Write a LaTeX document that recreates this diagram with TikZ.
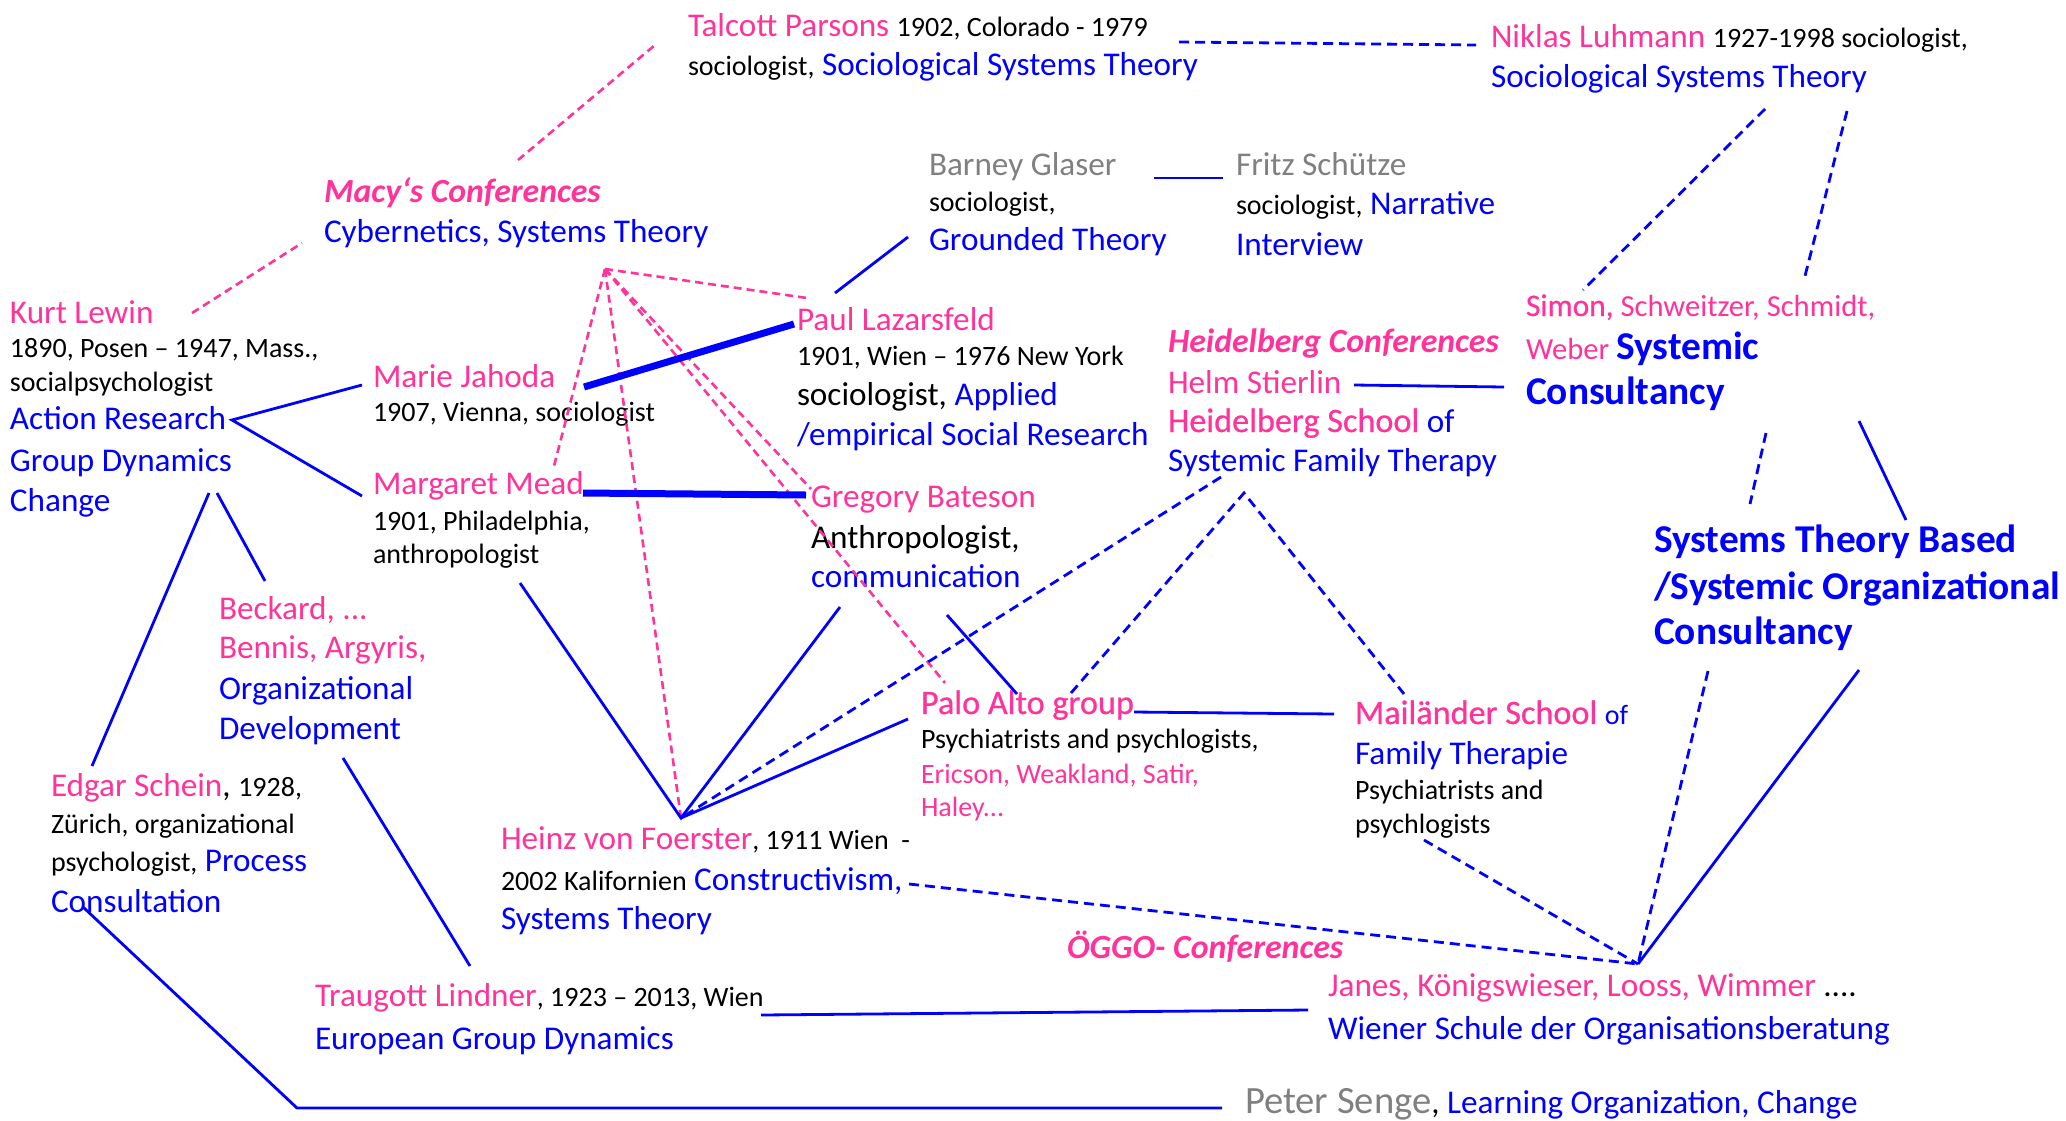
\documentclass[tikz,border=0pt]{standalone}
\usepackage{fontspec}
\setmainfont{Carlito}
\newfontfamily\semibfam[FakeBold=0.6]{Carlito}
\definecolor{pk}{RGB}{255,51,153}
\definecolor{bl}{RGB}{0,0,255}
\definecolor{gr}{RGB}{128,128,128}
% font sizes
\newcommand\fL{\fontsize{16.6}{19}\selectfont}
\newcommand\fS{\fontsize{14}{17}\selectfont}
\newcommand\fM{\fontsize{15.3}{18}\selectfont}
\newcommand\fX{\fontsize{19.7}{23}\selectfont}
\newcommand\fG{\fontsize{19.3}{23}\selectfont}
\newcommand\semib{\semibfam\fontsize{17.1}{19}\selectfont}
\newcommand\semibM{\semibfam\fontsize{15.7}{18}\selectfont}
\newcommand\bi{\bfseries\itshape\fontsize{16.9}{19}\selectfont}
\newcommand\pk[1]{{\color{pk}#1}}
\newcommand\bl[1]{{\color{bl}#1}}
\newcommand\gr[1]{{\color{gr}#1}}
\tikzset{
  txt/.style={anchor=base west, inner sep=0pt, outer sep=0pt, font=\fL},
  pinkdash/.style={draw=pk, line width=1.3pt, dash pattern=on 4pt off 2.5pt},
  bluedash/.style={draw=bl, line width=1.4pt, dash pattern=on 5pt off 3pt},
  blueline/.style={draw=bl, line width=1.4pt},
  bluethick/.style={draw=bl, line width=3.5pt},
}
\begin{document}
\begin{tikzpicture}[x=0.5pt,y=-0.5pt]
\useasboundingbox (0,0) rectangle (2066,1120);

% ---- Talcott Parsons
\node[txt] (tp1) at (688,36) {\pk{Talcott Parsons} {\fS 1902, Colorado - 1979}};
\node[txt] (tp2) at (688,75) {{\fS sociologist,} \bl{Sociological Systems Theory}};
% ---- Niklas Luhmann
\node[txt] (nl1) at (1491,47) {\pk{Niklas Luhmann} {\fS 1927-1998 sociologist,}};
\node[txt] (nl2) at (1491,87) {\bl{Sociological Systems Theory}};
% ---- Macy's Conferences
\node[txt] (mc1) at (324,202) {\pk{\bi Macy‘s Conferences}};
\node[txt] (mc2) at (324,242) {\bl{Cybernetics, Systems Theory}};
% ---- Kurt Lewin
\node[txt] (kl1) at (10,323) {\pk{Kurt Lewin}};
\node[txt] (kl2) at (10,357) {\fS 1890, Posen – 1947, Mass.,};
\node[txt] (kl3) at (10,391) {\fS socialpsychologist};
\node[txt] (kl4) at (10,429) {\bl{Action Research}};
\node[txt] (kl5) at (10,471) {\bl{Group Dynamics}};
\node[txt] (kl6) at (10,511) {\bl{Change}};
% ---- Marie Jahoda / Margaret Mead
\node[txt] (mj1) at (373,387) {\pk{Marie Jahoda}};
\node[txt] (mj2) at (373,421) {\fS 1907, Vienna, sociologist};
\node[txt] (mm1) at (373,494) {\pk{Margaret Mead}};
\node[txt] (mm2) at (373,530) {\fS 1901, Philadelphia,};
\node[txt] (mm3) at (373,563) {\fS anthropologist};
% ---- Barney Glaser / Fritz Schuetze
\node[txt] (bg1) at (929,175) {\gr{Barney Glaser}};
\node[txt] (bg2) at (929,211) {\fS sociologist,};
\node[txt] (bg3) at (929,250) {\bl{Grounded Theory}};
\node[txt] (fs1) at (1236,175) {\gr{Fritz Schütze}};
\node[txt] (fs2) at (1236,214) {{\fS sociologist,} \bl{Narrative}};
\node[txt] (fs3) at (1236,255) {\bl{Interview}};
% ---- Paul Lazarsfeld
\node[txt] (pl1) at (797,330) {\pk{Paul Lazarsfeld}};
\node[txt] (pl2) at (797,365) {\fS 1901, Wien – 1976 New York};
\node[txt] (pl3) at (797,405) {sociologist, \bl{Applied}};
\node[txt] (pl4) at (797,445) {\bl{/empirical Social Research}};
% ---- Heidelberg
\node[txt] (hd1) at (1168,352) {\pk{\bi Heidelberg Conferences}};
\node[txt] (hd2) at (1168,393) {\pk{Helm Stierlin}};
\node[txt] (hd3) at (1168,432) {\pk{\semib Heidelberg School} \bl{of}};
\node[txt] (hd4) at (1168,471) {\bl{Systemic Family Therapy}};
% ---- Gregory Bateson
\node[txt] (gb1) at (811,507) {\pk{Gregory Bateson}};
\node[txt] (gb2) at (811,548) {Anthropologist,};
\node[txt] (gb3) at (811,587) {\bl{communication}};
% ---- Simon et al.
\node[txt] (sc1) at (1526,316) {\fM\pk{{\semibM Simon,} Schweitzer, Schmidt,}};
\node[txt] (sc2) at (1526,359) {\fM\pk{Weber} \bl{\fX\bfseries Systemic}};
\node[txt] (sc3) at (1526,404) {\bl{\fX\bfseries Consultancy}};
% ---- Systems Theory Based
\node[txt] (st1) at (1654,552) {\bl{\fX\bfseries Systems Theory Based}};
\node[txt] (st2) at (1654,599) {\bl{\fX\bfseries /Systemic Organizational}};
\node[txt] (st3) at (1654,644) {\bl{\fX\bfseries Consultancy}};
% ---- Beckard et al.
\node[txt] (bk1) at (219,619) {\pk{Beckard, ...}};
\node[txt] (bk2) at (219,658) {\pk{Bennis, Argyris,}};
\node[txt] (bk3) at (219,699) {\bl{Organizational}};
\node[txt] (bk4) at (219,739) {\bl{Development}};
% ---- Edgar Schein
\node[txt] (es1) at (51,796) {\pk{Edgar Schein}, {\fS 1928,}};
\node[txt] (es2) at (51,833) {\fS Zürich, organizational};
\node[txt] (es3) at (51,871) {{\fS psychologist,} \bl{Process}};
\node[txt] (es4) at (51,912) {\bl{Consultation}};
% ---- Heinz von Foerster
\node[txt] (hf1) at (501,849) {\pk{Heinz von Foerster}{\fS , 1911 Wien\ \ -}};
\node[txt] (hf2) at (501,890) {{\fS 2002 Kalifornien} \bl{Constructivism,}};
\node[txt] (hf3) at (501,929) {\bl{Systems Theory}};
% ---- Traugott Lindner
\node[txt] (tl1) at (315,1006) {\pk{Traugott Lindner}{\fS , 1923 – 2013, Wien}};
\node[txt] (tl2) at (315,1049) {\bl{European Group Dynamics}};
% ---- Palo Alto group
\node[txt] (pa1) at (921,714) {\pk{\semib Palo Alto group}};
\node[txt] (pa2) at (921,748) {\fS Psychiatrists and psychlogists,};
\node[txt] (pa3) at (921,783) {\fS\pk{Ericson, Weakland, Satir,}};
\node[txt] (pa4) at (921,816) {\fS\pk{Haley...}};
% ---- OeGGO
\node[txt] (og) at (1067,958) {\pk{\bi ÖGGO- Conferences}};
% ---- Mailaender School
\node[txt] (ms1) at (1355,724) {\pk{\semib Mailänder School} {\fS\bl{of}}};
\node[txt] (ms2) at (1355,764) {\bl{Family Therapie}};
\node[txt] (ms3) at (1355,799) {\fS Psychiatrists and};
\node[txt] (ms4) at (1355,833) {\fS psychlogists};
% ---- Vienna school
\node[txt] (wi1) at (1328,996) {\pk{Janes, Königswieser, Looss, Wimmer} ....};
\node[txt] (wi2) at (1328,1039) {\bl{Wiener Schule der Organisationsberatung}};
% ---- Peter Senge
\node[txt] (ps) at (1245,1113) {\gr{\fG Peter Senge}, \bl{Learning Organization, Change}};

% ---- connector end points
\coordinate (A) at (605,269);   % Macy fan
\coordinate (H) at (681,818);   % Foerster fan
\coordinate (J) at (1638,964);  % Vienna fan
\coordinate (K) at (1244,493);  % Heidelberg fan
\coordinate (ar) at (232,420);
\coordinate (kurtR) at (192,313);
\coordinate (macyL) at (302,243);
\coordinate (macyT) at (518,160);
\coordinate (talB) at (655,45);
\coordinate (plTL) at (807,298);
\coordinate (mmTop) at (554,466);
\coordinate (gbL) at (811,489);
\coordinate (paTop) at (945,683);
\coordinate (mjR) at (362,385);
\coordinate (mmL) at (362,496);
\coordinate (chA) at (209,493);
\coordinate (chB) at (217,493);
\coordinate (esT) at (92,766);
\coordinate (bkT) at (265,581);
\coordinate (bkB) at (343,758);
\coordinate (tlT) at (470,966);
\coordinate (esB) at (83,907);
\coordinate (cornerSB) at (297,1108);
\coordinate (psL) at (1222,1108);
\coordinate (tlR) at (761,1015);
\coordinate (wiL) at (1308,1010);
\coordinate (mmB) at (520,583);
\coordinate (gbB) at (840,607);
\coordinate (paL) at (908,719);
\coordinate (gbB2) at (947,615);
\coordinate (paT2) at (1017,694);
\coordinate (paR) at (1134,712);
\coordinate (msL) at (1334,714);
\coordinate (plT) at (835,293);
\coordinate (bgB) at (908,237);
\coordinate (bgR) at (1154,178);
\coordinate (fsL) at (1223,178);
\coordinate (hsR) at (1354,385);
\coordinate (scL) at (1504,387);
\coordinate (scB1) at (1766,433);
\coordinate (stT1) at (1750,504);
\coordinate (scB2) at (1859,421);
\coordinate (stT2) at (1906,520);
\coordinate (stB1) at (1708,671);
\coordinate (stB2) at (1859,670);
\coordinate (mjRR) at (584,387);
\coordinate (plL) at (794,324);
\coordinate (mmR) at (583,493);
\coordinate (gbLL) at (806,495);
\coordinate (tpR) at (1179,42);
\coordinate (nlL) at (1476,45);
\coordinate (nlB1) at (1765,109);
\coordinate (scT1) at (1583,290);
\coordinate (nlB2) at (1847,111);
\coordinate (scT2) at (1805,276);
\coordinate (paTT) at (1071,693);
\coordinate (msT) at (1404,694);
\coordinate (hdB) at (1221,477);
\coordinate (hfR) at (909,884);
\coordinate (msB) at (1424,840);

% ---- pink dashed links
\draw[pinkdash] (kurtR) -- (macyL);
\draw[pinkdash] (macyT) -- (talB);
\draw[pinkdash] (A) -- (plTL);
\draw[pinkdash] (A) -- (mmTop);
\draw[pinkdash] (A) -- (H);
\draw[pinkdash] (A) -- (gbL);
\draw[pinkdash] (A) -- (paTop);

% ---- thick blue links
\draw[bluethick] (mjRR) -- (plL);
\draw[bluethick] (mmR) -- (gbLL);

% ---- solid blue links
\draw[blueline] (mjR) -- (ar) -- (mmL);
\draw[blueline] (chA) -- (esT);
\draw[blueline] (chB) -- (bkT);
\draw[blueline] (bkB) -- (tlT);
\draw[blueline] (esB) -- (cornerSB) -- (psL);
\draw[blueline] (tlR) -- (wiL);
\draw[blueline] (mmB) -- (H) -- (gbB);
\draw[blueline] (H) -- (paL);
\draw[blueline] (gbB2) -- (paT2);
\draw[blueline] (paR) -- (msL);
\draw[blueline] (plT) -- (bgB);
\draw[blueline] (bgR) -- (fsL);
\draw[blueline] (hsR) -- (scL);
\draw[blueline] (scB2) -- (stT2);
\draw[blueline] (stB2) -- (J);

% ---- dashed blue links
\draw[bluedash] (tpR) -- (nlL);
\draw[bluedash] (nlB1) -- (scT1);
\draw[bluedash] (nlB2) -- (scT2);
\draw[bluedash] (scB1) -- (stT1);
\draw[bluedash] (paTT) -- (K) -- (msT);
\draw[bluedash] (hdB) -- (H);
\draw[bluedash] (hfR) -- (J);
\draw[bluedash] (msB) -- (J);
\draw[bluedash] (stB1) -- (J);
\end{tikzpicture}
\end{document}
